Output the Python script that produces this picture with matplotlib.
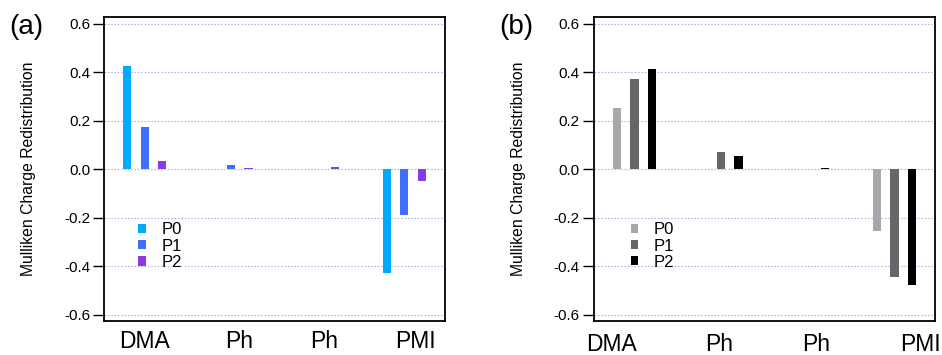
import matplotlib
matplotlib.use("Agg")
import matplotlib.pyplot as plt
import numpy as np
from matplotlib.transforms import blended_transform_factory

plt.rcParams['font.family'] = ['Liberation Sans', 'DejaVu Sans']

categories = ["DMA", "Ph", "Ph", "PMI"]
series_names = ["P0", "P1", "P2"]

# panel (a)
a_P0 = [0.427, 0.0, 0.0, -0.427]
a_P1 = [0.173, 0.018, 0.0, -0.190]
a_P2 = [0.035, 0.004, 0.012, -0.049]
# panel (b)
b_P0 = [0.253, 0.0, 0.0, -0.252]
b_P1 = [0.372, 0.070, 0.0, -0.443]
b_P2 = [0.413, 0.056, 0.006, -0.477]

colors_a = ["#00AAFF", "#3F6FFF", "#8A3BE6"]
colors_b = ["#A8A8A8", "#666666", "#000000"]

yticks = [-0.6, -0.4, -0.2, 0.0, 0.2, 0.4, 0.6]
ytick_labels = ["-0.6", "-0.4", "-0.2", "0.0", "0.2", "0.4", "0.6"]

fig = plt.figure(figsize=(9.42, 3.55), dpi=100)

def draw(ax, series, colors, label_pos, label_y, panel, legend_x, sq):
    x = np.arange(len(categories))
    for j, (vals, c, name) in enumerate(zip(series, colors, series_names)):
        ax.bar(x + (j - 1) * 0.2, vals, width=0.095, color=c, label=name, zorder=3)
    ax.set_xlim(-0.47, 3.47)
    ax.set_ylim(-0.625, 0.628)
    ax.set_yticks(yticks)
    ax.set_yticklabels(ytick_labels, fontsize=11)
    ax.tick_params(axis='y', direction='out', length=8, width=1.0, pad=2)
    ax.set_xticks([])
    for y in yticks:
        ax.axhline(y, color="#b4b4f4", lw=0.8, ls=(0, (1.5, 1.5)), zorder=1)
    for s in ax.spines.values():
        s.set_linewidth(1.3)
    ax.set_ylabel("Mulliken Charge Redistribution", fontsize=11.3, labelpad=20)
    tr = blended_transform_factory(ax.transData, ax.transAxes)
    for lp, lab in zip(label_pos, categories):
        ax.text(lp, label_y, lab, transform=tr, ha='center', va='center', fontsize=16.5)
    ax.text(-0.228, 0.967, panel, transform=ax.transAxes, ha='center', va='center', fontsize=20)
    ax.legend(loc='upper left', bbox_to_anchor=(legend_x, 0.325), frameon=False,
              fontsize=12, handlelength=sq, handleheight=sq, handletextpad=0.9,
              labelspacing=0.08, borderpad=0.0, borderaxespad=0.0)

ax1 = fig.add_axes([0.1104, 0.0958, 0.362, 0.856])
draw(ax1, [a_P0, a_P1, a_P2], colors_a, [0.0, 1.09, 2.07, 3.13], -0.066, "(a)", 0.1, 0.5)

ax2 = fig.add_axes([0.6303, 0.0958, 0.3626, 0.856])
draw(ax2, [b_P0, b_P1, b_P2], colors_b, [-0.26, 0.98, 2.10, 3.30], -0.079, "(b)", 0.108, 0.45)

fig.savefig("out.png", dpi=100)
